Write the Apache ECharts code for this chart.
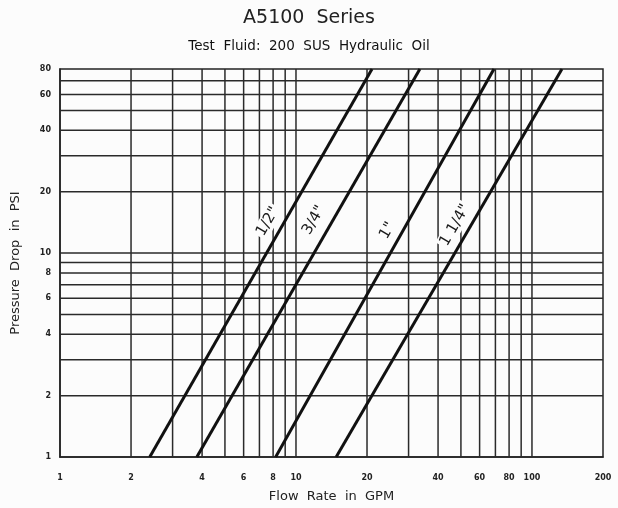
<!DOCTYPE html>
<html>
<head>
<meta charset="utf-8">
<script src="https://cdn.jsdelivr.net/npm/echarts@6/dist/echarts.min.js"></script>
<style>
html, body { margin: 0; padding: 0; background: #fcfcfc; }
#main { width: 618px; height: 508px; }
</style>
</head>
<body>
<div id="main"></div>
<script>
// size lines: [flow, pressure] at ends of each curve (log-log straight lines)
var sizeNames = ['1/2"', '3/4"', '1"', '1 1/4"']
var halfInch = [[2.4, 1], [21, 80]]
var threeQuarter = [[3.8, 1], [33.5, 80]]
var oneInch = [[8.2, 1], [69, 80]]
var oneQuarter = [[14.8, 1], [134, 80]]
// label anchor points (data coords) beside each line
var labelAt = [[7.6, 14.3], [11.9, 14.5], [24.4, 12.9], [47.2, 13.7]]

var xGrid = [2, 3, 4, 5, 6, 7, 8, 9, 10, 20, 30, 40, 50, 60, 70, 80, 90, 100]
var yGrid = [2, 3, 4, 5, 6, 7, 8, 9, 10, 20, 30, 40, 50, 60, 70]
var xLabels = [1, 2, 4, 6, 8, 10, 20, 40, 60, 80, 100, 200]
var yLabels = [1, 2, 4, 6, 8, 10, 20, 40, 60, 80]

var font = 'DejaVu Sans'
var bg = '#fcfcfc'
var chart = echarts.init(document.getElementById('main'))

var gridSeries = []
xGrid.forEach(function (v) {
  gridSeries.push({
    type: 'line', silent: true, symbol: 'none', z: 1,
    lineStyle: { color: '#2a2a2a', width: 1.5 },
    data: [[v, 1], [v, 80]]
  })
})
yGrid.forEach(function (v) {
  gridSeries.push({
    type: 'line', silent: true, symbol: 'none', z: 1,
    lineStyle: { color: '#2a2a2a', width: 1.5 },
    data: [[1, v], [200, v]]
  })
})

var lines = [halfInch, threeQuarter, oneInch, oneQuarter]
var sizeSeries = lines.map(function (d, i) {
  return {
    name: sizeNames[i],
    type: 'line',
    symbol: 'none',
    z: 3,
    lineStyle: { color: '#111', width: 3 },
    data: d,
    markPoint: {
      symbol: 'circle',
      symbolSize: 0,
      data: [{
        coord: labelAt[i],
        label: {
          show: true,
          formatter: sizeNames[i],
          rotate: 60,
          position: 'inside',
          fontFamily: font,
          fontSize: 15,
          color: '#1a1a1a',
          backgroundColor: bg,
          padding: [1, 2]
        }
      }]
    }
  }
})

chart.setOption({
  backgroundColor: bg,
  animation: false,
  title: [
    {
      text: 'A5100  Series',
      left: 'center',
      top: 4,
      textStyle: { fontFamily: font, fontSize: 19, fontWeight: 'normal', color: '#222' }
    },
    {
      text: 'Test  Fluid:  200  SUS  Hydraulic  Oil',
      left: 'center',
      top: 34,
      textStyle: { fontFamily: font, fontSize: 13.5, fontWeight: 'normal', color: '#111' }
    }
  ],
  grid: {
    left: 60, right: 15, top: 69, bottom: 51,
    outerBoundsMode: 'none',
    containLabel: false,
    show: true,
    borderColor: '#222',
    borderWidth: 1.5,
    backgroundColor: 'transparent'
  },
  xAxis: {
    type: 'log',
    logBase: 10,
    min: 1,
    max: 200,
    name: 'Flow  Rate  in  GPM',
    nameLocation: 'middle',
    nameGap: 33,
    nameTextStyle: { fontFamily: font, fontSize: 13, color: '#222' },
    axisLine: { show: true, lineStyle: { color: '#222', width: 1.5 } },
    axisTick: { show: false },
    splitLine: { show: false },
    axisLabel: {
      customValues: xLabels,
      margin: 17,
      fontFamily: font,
      fontSize: 8,
      fontWeight: 'bold',
      color: '#222'
    }
  },
  yAxis: {
    type: 'log',
    logBase: 10,
    min: 1,
    max: 80,
    name: 'Pressure  Drop  in  PSI',
    nameLocation: 'middle',
    nameGap: 38,
    nameTextStyle: { fontFamily: font, fontSize: 13, color: '#222' },
    axisLine: { show: true, lineStyle: { color: '#222', width: 1.5 } },
    axisTick: { show: false },
    splitLine: { show: false },
    axisLabel: {
      customValues: yLabels,
      margin: 9,
      fontFamily: font,
      fontSize: 8,
      fontWeight: 'bold',
      color: '#222'
    }
  },
  series: gridSeries.concat(sizeSeries)
})
</script>
</body>
</html>
